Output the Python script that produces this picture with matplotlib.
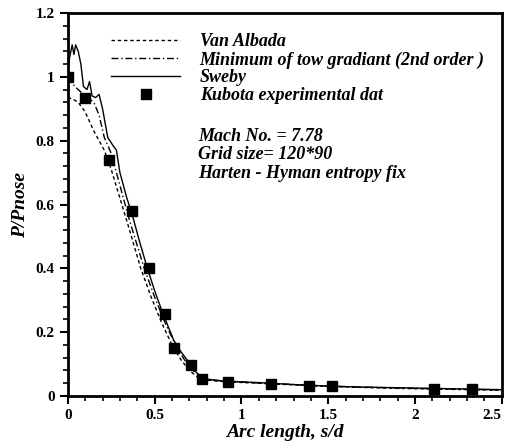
import matplotlib
matplotlib.use("Agg")
import matplotlib.pyplot as plt
from matplotlib.ticker import MultipleLocator

# Kubota experimental data
kubota_x = [0.0, 0.10, 0.24, 0.37, 0.47, 0.56, 0.61, 0.71, 0.775, 0.92, 1.17, 1.39, 1.52, 2.11, 2.33]
kubota_y = [1.0, 0.934, 0.74, 0.58, 0.40, 0.257, 0.15, 0.097, 0.053, 0.044, 0.038, 0.030, 0.031, 0.022, 0.022]

# Sweby
sweby_x = [0.0, 0.01, 0.025, 0.035, 0.045, 0.06, 0.075, 0.09, 0.11, 0.125, 0.14, 0.16, 0.18, 0.20,
           0.23, 0.26, 0.28, 0.30, 0.34, 0.37, 0.41, 0.456, 0.50, 0.54, 0.58, 0.61, 0.65, 0.695,
           0.73, 0.763, 0.80, 0.90, 1.1, 1.3, 1.5, 1.7, 1.9, 2.1, 2.3, 2.5]
sweby_y = [1.0, 1.06, 1.10, 1.07, 1.10, 1.08, 1.04, 0.97, 0.96, 0.985, 0.94, 0.935, 0.945, 0.90,
           0.81, 0.785, 0.77, 0.70, 0.62, 0.57, 0.49, 0.404, 0.33, 0.27, 0.215, 0.175, 0.14, 0.107,
           0.08, 0.062, 0.053, 0.047, 0.042, 0.036, 0.031, 0.028, 0.026, 0.024, 0.022, 0.020]

# Van Albada
albada_x = [0.0, 0.03, 0.06, 0.10, 0.15, 0.21, 0.25, 0.30, 0.35, 0.42, 0.48, 0.54, 0.60, 0.65,
            0.70, 0.75, 0.80, 0.90, 1.1, 1.3, 1.5, 1.7, 1.9, 2.1, 2.3, 2.5]
albada_y = [0.935, 0.93, 0.92, 0.89, 0.83, 0.77, 0.71, 0.62, 0.53, 0.40, 0.31, 0.23, 0.16, 0.115,
            0.08, 0.058, 0.05, 0.045, 0.04, 0.035, 0.030, 0.027, 0.024, 0.022, 0.020, 0.018]

# Minimum of two gradient
minmod_x = [0.0, 0.04, 0.08, 0.15, 0.18, 0.21, 0.25, 0.30, 0.35, 0.44, 0.50, 0.56, 0.62, 0.67,
            0.72, 0.77, 0.82, 0.95, 1.1, 1.3, 1.5, 1.7, 1.9, 2.1, 2.3, 2.5]
minmod_y = [1.0, 0.97, 0.95, 0.92, 0.88, 0.81, 0.76, 0.66, 0.56, 0.40, 0.31, 0.23, 0.16, 0.115,
            0.08, 0.06, 0.05, 0.045, 0.041, 0.036, 0.031, 0.028, 0.025, 0.023, 0.021, 0.019]

legend_labels = ["Van Albada", "Minimum of tow gradiant (2nd order )", "Sweby",
                 "Kubota experimental dat"]
info_lines = ["Mach No. = 7.78", "Grid size= 120*90", "Harten - Hyman entropy fix"]
xtick_vals = [0, 0.5, 1, 1.5, 2, 2.5]
xtick_labels = ["0", "0.5", "1", "1.5", "2", "2.5"]
ytick_vals = [0, 0.2, 0.4, 0.6, 0.8, 1.0, 1.2]
ytick_labels = ["0", "0.2", "0.4", "0.6", "0.8", "1", "1.2"]

serif = "Liberation Serif"

fig = plt.figure(figsize=(5.1, 4.48), dpi=100)
ax = fig.add_axes([0.133, 0.116, 0.851, 0.855])

ax.plot(albada_x, albada_y, color="black", lw=1.0, ls=(0, (2.5, 2)), label=legend_labels[0])
ax.plot(minmod_x, minmod_y, color="black", lw=1.0, ls=(0, (5, 2, 1, 2)), label=legend_labels[1])
ax.plot(sweby_x, sweby_y, color="black", lw=1.0, ls="-", label=legend_labels[2])
ax.plot(kubota_x, kubota_y, ls="none", marker="s", ms=7, color="black", label=legend_labels[3])

ax.set_xlim(0, 2.5)
ax.set_ylim(0, 1.2)
ax.set_xticks(xtick_vals)
ax.set_xticklabels(xtick_labels)
ax.set_yticks(ytick_vals)
ax.set_yticklabels(ytick_labels)
ax.xaxis.set_minor_locator(MultipleLocator(0.1))
ax.yaxis.set_minor_locator(MultipleLocator(0.04))

ax.tick_params(which="major", direction="out", length=6, width=1.5, top=False, right=False)
ax.tick_params(which="minor", direction="out", length=3.5, width=1.2, top=False, right=False)
for lab in ax.get_xticklabels() + ax.get_yticklabels():
    lab.set_fontfamily(serif)
    lab.set_fontweight("bold")
    lab.set_fontsize(11)
# last x label is clipped by the figure edge in the original; keep it inside
ax.get_xticklabels()[-1].set_horizontalalignment("right")
for sp in ax.spines.values():
    sp.set_linewidth(2)

ax.set_xlabel("Arc length, s/d", fontfamily=serif, fontstyle="italic", fontweight="bold",
              fontsize=14, labelpad=1)
ax.set_ylabel("P/Pnose", fontfamily=serif, fontstyle="italic", fontweight="bold",
              fontsize=14, labelpad=5)

leg = ax.legend(loc="upper left", bbox_to_anchor=(0.1, 0.947), frameon=False,
                prop={"family": serif, "style": "italic", "weight": "bold", "size": 13},
                handlelength=3.8, handletextpad=1.1, labelspacing=0.05, borderpad=0,
                borderaxespad=0)

ax.text(0.3, 0.700, "\n".join(info_lines), transform=ax.transAxes, va="top", ha="left",
        fontfamily=serif, fontstyle="italic", fontweight="bold", fontsize=13, linespacing=1.1)

fig.savefig("out.png", dpi=100)
